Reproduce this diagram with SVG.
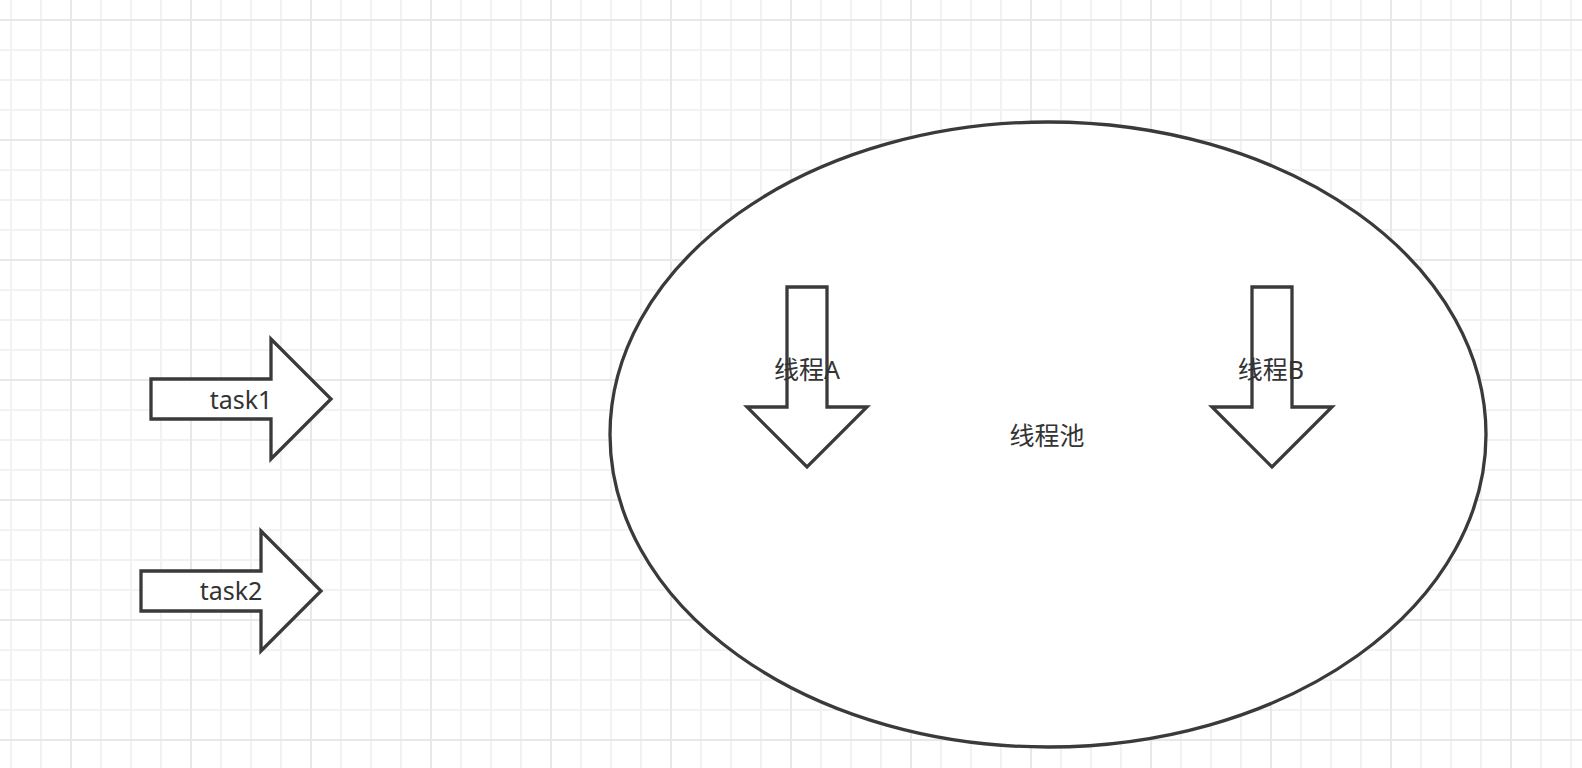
<svg xmlns="http://www.w3.org/2000/svg" width="1582" height="768" viewBox="0 0 1582 768">
  <style>
    .shape { fill: #ffffff; stroke: #3a3a3a; stroke-width: 3.3; stroke-linejoin: miter; }
    .label { font-family: "Noto Sans", "Noto Sans CJK SC", sans-serif; font-size: 25px; fill: #333333; text-anchor: middle; }
  </style>
  <defs>
    <pattern id="grid" patternUnits="userSpaceOnUse" x="70" y="19" width="120" height="120">
      <rect x="30" y="0" width="2" height="120" fill="#f2f2f2"/>
      <rect x="60" y="0" width="2" height="120" fill="#f2f2f2"/>
      <rect x="90" y="0" width="2" height="120" fill="#f2f2f2"/>
      <rect x="0" y="30" width="120" height="2" fill="#f2f2f2"/>
      <rect x="0" y="60" width="120" height="2" fill="#f2f2f2"/>
      <rect x="0" y="90" width="120" height="2" fill="#f2f2f2"/>
      <rect x="0" y="0" width="2" height="120" fill="#e8e8e8"/>
      <rect x="0" y="0" width="120" height="2" fill="#e8e8e8"/>
    </pattern>
  </defs>
  <rect x="0" y="0" width="1582" height="768" fill="#ffffff"/>
  <rect x="0" y="0" width="1582" height="768" fill="url(#grid)"/>

  <g id="task1">
    <polygon class="shape" points="151,379 271,379 271,339 331,399 271,459 271,419 151,419"/>
    <text class="label" x="241" y="409">task1</text>
  </g>
  <g id="task2">
    <polygon class="shape" points="141,571 261,571 261,531 321,591 261,651 261,611 141,611"/>
    <text class="label" x="231" y="600">task2</text>
  </g>
  <g id="pool">
    <ellipse class="shape" cx="1048" cy="434.5" rx="438" ry="312.5"/>
    <text class="label" x="1047" y="435" dominant-baseline="central">线程池</text>
  </g>
  <g id="threadA">
    <polygon class="shape" points="787,287 827,287 827,407 867,407 807,467 747,407 787,407"/>
    <text class="label" x="807" y="369" dominant-baseline="central">线程A</text>
  </g>
  <g id="threadB">
    <polygon class="shape" points="1252,287 1292,287 1292,407 1332,407 1272,467 1212,407 1252,407"/>
    <text class="label" x="1271" y="369" dominant-baseline="central">线程B</text>
  </g>
  <g id="connectors"/>
</svg>
